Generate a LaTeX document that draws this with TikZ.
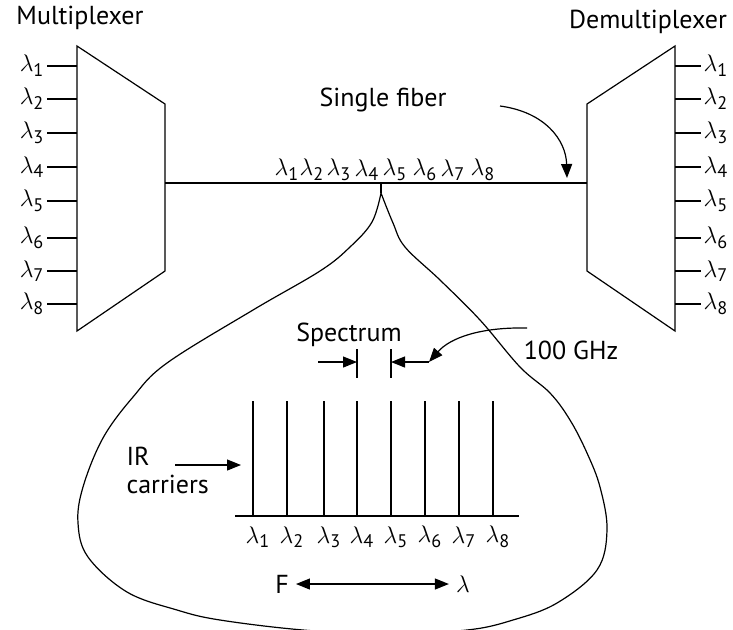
\documentclass[tikz,border=0pt]{standalone}
\usepackage{fontspec}
\setmainfont{PT Sans}
\usetikzlibrary{arrows.meta}

\begin{document}
\begin{tikzpicture}[x=0.5pt,y=-0.5pt,line width=0.6pt,
  >={Triangle[length=7pt,width=5.5pt]},
  font=\fontsize{13}{14}\selectfont,
  lab/.style={inner sep=1pt}]
\useasboundingbox (0,0) rectangle (733,629);

% multiplexer and demultiplexer
\draw (77,46) -- (165,104) -- (165,271) -- (77,331) -- cycle;
\draw (675,46) -- (587,104) -- (587,271) -- (675,331) -- cycle;
\node (mux) at (80,18) {Multiplexer};
\node (demux) at (648,22) {Demultiplexer};

\foreach \y [count=\i] in {66,99,133,167,201,238,271,304} {
  \coordinate (in\i) at (77,\y);
  \coordinate (out\i) at (675,\y);
  \node[lab,anchor=east] (lin\i) at (47,\y) {$\lambda_{\mathrm{\i}}$};
  \node[lab,anchor=west] (lout\i) at (701,\y) {$\lambda_{\mathrm{\i}}$};
  \draw (lin\i.east) -- (in\i);
  \draw (out\i) -- (lout\i.west);
}

% fiber
\coordinate (muxout) at (165,183);
\coordinate (demuxin) at (587,183);
\draw (muxout) -- (demuxin);
\foreach \x [count=\i] in {287,312,339,367,395,425,453,483}
  \node[lab] (f\i) at (\x,170) {$\lambda_{\mathrm{\i}}$};

\node (sf) at (383,100) {Single fiber};
\coordinate (sfa) at (500,106);
\coordinate (sfb) at (567,178);
\draw[->] (sfa) .. controls (545,112) and (566,140) .. (sfb);

% blow-up
\coordinate (tap) at (381,183);
\coordinate (split) at (381,193);
\draw (tap) -- (split);
\draw plot[smooth,tension=0.6] coordinates {(381,193) (372,222) (350,247) (320,271)
  (253,310) (167,363) (133,397) (103,438) (83,487) (78,523) (88,557) (127,592)
  (177,610) (220,620) (303,630) (385,634) (467,630) (513,620) (557,603) (597,570)
  (607,530) (600,487) (587,453) (570,420) (550,393) (520,367) (480,320) (440,280)
  (405,247) (393,223) (381,193)};

% spectrum
\node (spec) at (349,335) {Spectrum};
\draw (357,349) coordinate (ta) -- (357,378);
\draw (391,349) coordinate (tb) -- (391,378);
\coordinate (sa) at (318,362);
\coordinate (sb) at (357,362);
\coordinate (sc) at (429,362);
\coordinate (sd) at (391,362);
\draw[->] (sa) -- (sb);
\draw[->] (sc) -- (sd);
\node (ghz) at (571,350) {100 GHz};
\coordinate (ga) at (527,328);
\draw[->] (ga) .. controls (480,327) and (450,338) .. (sc);

% carriers
\coordinate (ba) at (235,516);
\coordinate (bb) at (519,516);
\draw (ba) -- (bb);
\foreach \x [count=\i] in {253,287,324,357,391,425,459,493} {
  \coordinate (c\i) at (\x,516);
  \draw (c\i) -- (\x,401);
  \node[lab] (cl\i) at (\x+5,537) {$\lambda_{\mathrm{\i}}$};
}

\node[align=left,anchor=west,inner sep=0pt] (ir) at (126,470) {IR\\carriers};
\coordinate (ia) at (175,465);
\coordinate (ib) at (241,465);
\draw[->] (ia) -- (ib);

\node (F) at (282,584) {F};
\node (lam) at (463,584) {$\lambda$};
\draw[<->] (F) -- (lam);

\end{tikzpicture}
\end{document}
